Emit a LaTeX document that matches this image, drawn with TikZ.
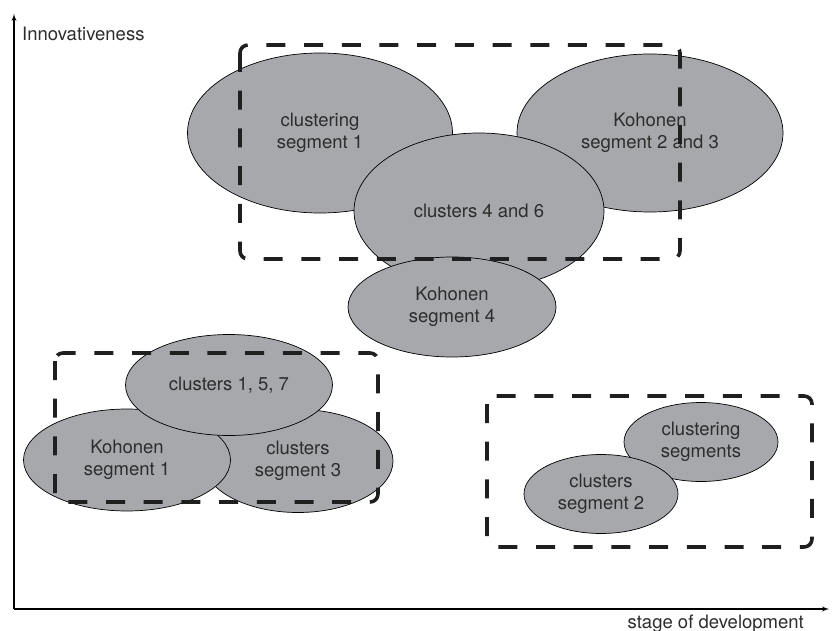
\documentclass[tikz,border=0pt]{standalone}
\usepackage{fontspec}
\setmainfont{TeX Gyre Heros}
\usepackage{tikz}
\usetikzlibrary{arrows,shapes.geometric}
\definecolor{blobgray}{RGB}{167,168,172}
\definecolor{textgray}{RGB}{45,45,45}

\begin{document}
\begin{tikzpicture}[x=1pt,y=-1pt,>=latex',
blob/.style={ellipse,draw,fill=blobgray,line width=0.7pt,inner sep=0pt,align=center,
  text=textgray,font=\fontsize{18.5}{21.7}\selectfont},
groupbox/.style={draw=black!88,line width=3.6pt,dash pattern=on 19pt off 18.7pt,rounded corners=8pt},
axis/.style={->,line width=1.3pt},
axis label/.style={text=textgray,font=\fontsize{18.5}{21.7}\selectfont,inner sep=0pt}]

\useasboundingbox (0,0) rectangle (832,631);

% axes
\coordinate (origin) at (14,609);
\coordinate (ytip) at (14,14);
\coordinate (xtip) at (829,609);
\draw[axis] (origin) -- (ytip);
\draw[axis] (origin) -- (xtip);
\node[axis label,anchor=base west] (ylab) at (22,41) {Innovativeness};
\node[axis label,anchor=base east] (xlab) at (804,628) {stage of development};

% upper group
\node[blob,minimum width=265pt,minimum height=160pt] (cs1) at (320,133) {clustering\\segment 1};
\node[blob,minimum width=266pt,minimum height=158pt] (k23) at (650,133) {Kohonen\\segment 2 and 3};
\node[blob,minimum width=250pt,minimum height=156pt] (c46) at (479,211) {clusters 4 and 6};
\node[blob,minimum width=208pt,minimum height=100pt] (k4) at (452,307) {Kohonen\\segment 4};
\draw[groupbox] (240,45) rectangle (680,259);

% lower left group
\node[blob,minimum width=190pt,minimum height=103pt] (c3) at (298,461) {clusters\\segment 3};
\node[blob,minimum width=207pt,minimum height=102pt] (k1) at (127,460) {Kohonen\\segment 1};
\node[blob,minimum width=207pt,minimum height=101pt] (c157) at (229,385) {clusters 1, 5, 7};
\draw[groupbox] (55,353) rectangle (378,502);

% lower right group
\node[blob,minimum width=154pt,minimum height=79pt] (csg) at (701,442) {clustering\\segments};
\node[blob,minimum width=154pt,minimum height=79pt] (c2) at (601,494) {clusters\\segment 2};
\draw[groupbox] (487,396) rectangle (812,547);

\end{tikzpicture}
\end{document}
